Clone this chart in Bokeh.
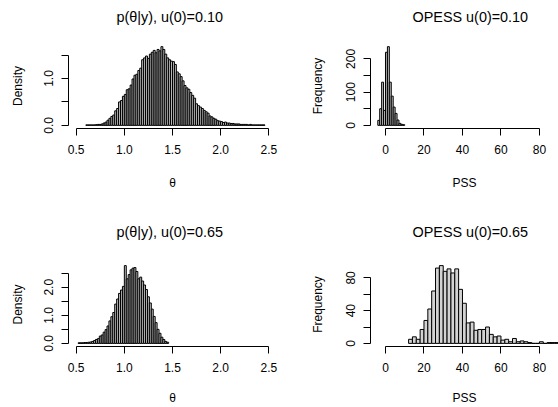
import numpy as np
from bokeh.plotting import figure
from bokeh.models import FixedTicker, Range1d
from bokeh.layouts import column, row
from bokeh.embed import file_html
from bokeh.resources import INLINE

# ---------------- data ----------------
# Posterior density of theta, u(0)=0.10 (bin width 0.02 starting at 0.60)
theta1_start = 0.60
theta1_width = 0.02
dens1 = [0.01, 0.01, 0.01, 0.01, 0.01, 0.015, 0.02, 0.02, 0.03, 0.05,
         0.07, 0.11, 0.15, 0.19, 0.22, 0.31, 0.36, 0.50, 0.53, 0.62,
         0.66, 0.76, 0.78, 0.86, 0.99, 1.07, 1.09, 1.17, 1.22, 1.40,
         1.44, 1.48, 1.43, 1.52, 1.56, 1.60, 1.55, 1.62, 1.59, 1.68,
         1.62, 1.52, 1.44, 1.40, 1.37, 1.36, 1.30, 1.14, 1.10, 1.04,
         0.95, 0.85, 0.80, 0.77, 0.70, 0.64, 0.58, 0.46, 0.42, 0.39,
         0.36, 0.32, 0.29, 0.26, 0.20, 0.18, 0.15, 0.13, 0.10, 0.09,
         0.08, 0.06, 0.07, 0.05, 0.05, 0.04, 0.04, 0.03, 0.03, 0.03,
         0.02, 0.02, 0.02, 0.02, 0.01, 0.02, 0.01, 0.01, 0.01, 0.01,
         0.01, 0.01, 0.01]

# Posterior density of theta, u(0)=0.65 (bin width 0.02 starting at 0.52)
theta3_start = 0.52
theta3_width = 0.02
dens3 = [0.02, 0.02, 0.02, 0.03, 0.03, 0.04, 0.05, 0.07, 0.10, 0.14,
         0.17, 0.26, 0.30, 0.40, 0.49, 0.62, 0.80, 0.95, 1.10, 1.40,
         1.58, 1.78, 1.90, 2.03, 2.77, 2.30, 2.45, 2.62, 2.68, 2.70,
         2.56, 2.30, 2.36, 2.22, 2.08, 1.92, 1.66, 1.44, 1.22, 0.96,
         0.74, 0.50, 0.36, 0.22, 0.14, 0.07, 0.04]

# OPESS frequencies, u(0)=0.10 (bin width 1 starting at -4)
pss1_start = -4
pss1_width = 1
freq1 = [15, 50, 130, 45, 220, 237, 130, 88, 55, 36, 16, 6, 3, 2]

# OPESS frequencies, u(0)=0.65 (bin width 2 starting at 12)
pss2_start = 12
pss2_width = 2
freq2 = [5, 8, 5, 17, 28, 42, 64, 92, 95, 88, 91, 86, 91, 66, 49, 25, 26,
         16, 17, 17, 20, 11, 8, 9, 4, 5, 2, 6, 2, 3, 2, 1, 0, 0, 2, 0,
         1, 1, 1]

titles = ["p(\u03b8|y), u(0)=0.10", "OPESS u(0)=0.10",
          "p(\u03b8|y), u(0)=0.65", "OPESS u(0)=0.65"]

theta_ticks = [0.5, 1.0, 1.5, 2.0, 2.5]
theta_labels = ["0.5", "1.0", "1.5", "2.0", "2.5"]
pss_ticks = [0, 20, 40, 60, 80]
pss_labels = ["0", "20", "40", "60", "80"]
dens1_ticks = [0.0, 0.5, 1.0, 1.5]
dens1_labels = ["0.0", "", "1.0", ""]
dens3_ticks = [0.0, 0.5, 1.0, 1.5, 2.0, 2.5]
dens3_labels = ["0.0", "", "1.0", "", "2.0", ""]
freq1_ticks = [0, 50, 100, 150, 200]
freq1_labels = ["0", "", "100", "", "200"]
freq2_ticks = [0, 20, 40, 60, 80]
freq2_labels = ["0", "", "40", "", "80"]

FONT = "Liberation Sans"


def edges_of(start, width, n):
    return np.round(start + width * np.arange(n + 1), 4)


def panel(title, xlabel, ylabel, start, width, heights, xr, xticks, xlabels,
          yticks, ylabels, w, h, bl, br, bt, bb, t_off, t_stand,
          x_lab_st, x_axis_st, y_axis_st, fill):
    ymax = max(heights)
    p = figure(width=w, height=h, output_backend="svg", toolbar_location=None,
               x_range=Range1d(*xr), y_range=Range1d(-0.04 * ymax, 1.04 * ymax),
               min_border_left=bl, min_border_right=br, min_border_top=bt,
               min_border_bottom=bb)
    e = edges_of(start, width, len(heights))
    p.quad(left=e[:-1], right=e[1:], bottom=0, top=heights,
           fill_color=fill, line_color="black", line_width=1)
    p.grid.visible = False
    p.outline_line_color = None
    p.background_fill_color = "white"
    p.border_fill_color = "white"

    # second (blank) line lifts the visible title away from the frame
    p.title.text = title + "\n "
    p.title.align = "left"
    p.title.offset = t_off
    p.title.standoff = t_stand
    p.title.text_font = FONT
    p.title.text_font_size = "14.4px"
    p.title.text_font_style = "normal"
    p.title.text_color = "black"

    for ax, ticks, labels, lab, lst, ast in (
            (p.xaxis[0], xticks, xlabels, xlabel, x_lab_st, x_axis_st),
            (p.yaxis[0], yticks, ylabels, ylabel, 8, y_axis_st)):
        ax.ticker = FixedTicker(ticks=ticks)
        ax.major_label_overrides = {float(t): s for t, s in zip(ticks, labels)}
        ax.bounds = (ticks[0], ticks[-1])
        ax.axis_label = lab
        ax.axis_label_text_font = FONT
        ax.axis_label_text_font_size = "12px"
        ax.axis_label_text_font_style = "normal"
        ax.axis_label_text_color = "black"
        ax.major_label_text_font = FONT
        ax.major_label_text_font_size = "12px"
        ax.major_label_text_color = "black"
        ax.axis_line_color = "black"
        ax.major_tick_line_color = "black"
        ax.major_tick_out = 7
        ax.major_tick_in = 0
        ax.minor_tick_line_color = None
        ax.major_label_standoff = lst
        ax.axis_label_standoff = ast
    p.yaxis[0].major_label_orientation = "vertical"
    return p


theta_xr = (0.42, 2.58)
pss_xr = (-7.79, 89.9)

p1 = panel(titles[0], "\u03b8", "Density", theta1_start, theta1_width, dens1,
           theta_xr, theta_ticks, theta_labels, dens1_ticks, dens1_labels,
           279, 204, 68, 3, 43, 76, 48, 6, 9, 19, 17, "#c0c0c0")
p2 = panel(titles[1], "PSS", "Frequency", pss1_start, pss1_width, freq1,
           pss_xr, pss_ticks, pss_labels, freq1_ticks, freq1_labels,
           279, 204, 91, 0, 43, 76, 42, 6, 9, 19, 19, "#c0c0c0")
p3 = panel(titles[2], "\u03b8", "Density", theta3_start, theta3_width, dens3,
           theta_xr, theta_ticks, theta_labels, dens3_ticks, dens3_labels,
           279, 203, 68, 3, 58, 60, 48, 14, 9, 16, 17, "#c0c0c0")
p4 = panel(titles[3], "PSS", "Frequency", pss2_start, pss2_width, freq2,
           pss_xr, pss_ticks, pss_labels, freq2_ticks, freq2_labels,
           279, 203, 91, 0, 58, 60, 42, 14, 9, 16, 19, "#d3d3d3")

layout = column(row(p1, p2), row(p3, p4))
open("out.html", "w").write(file_html(layout, INLINE))
